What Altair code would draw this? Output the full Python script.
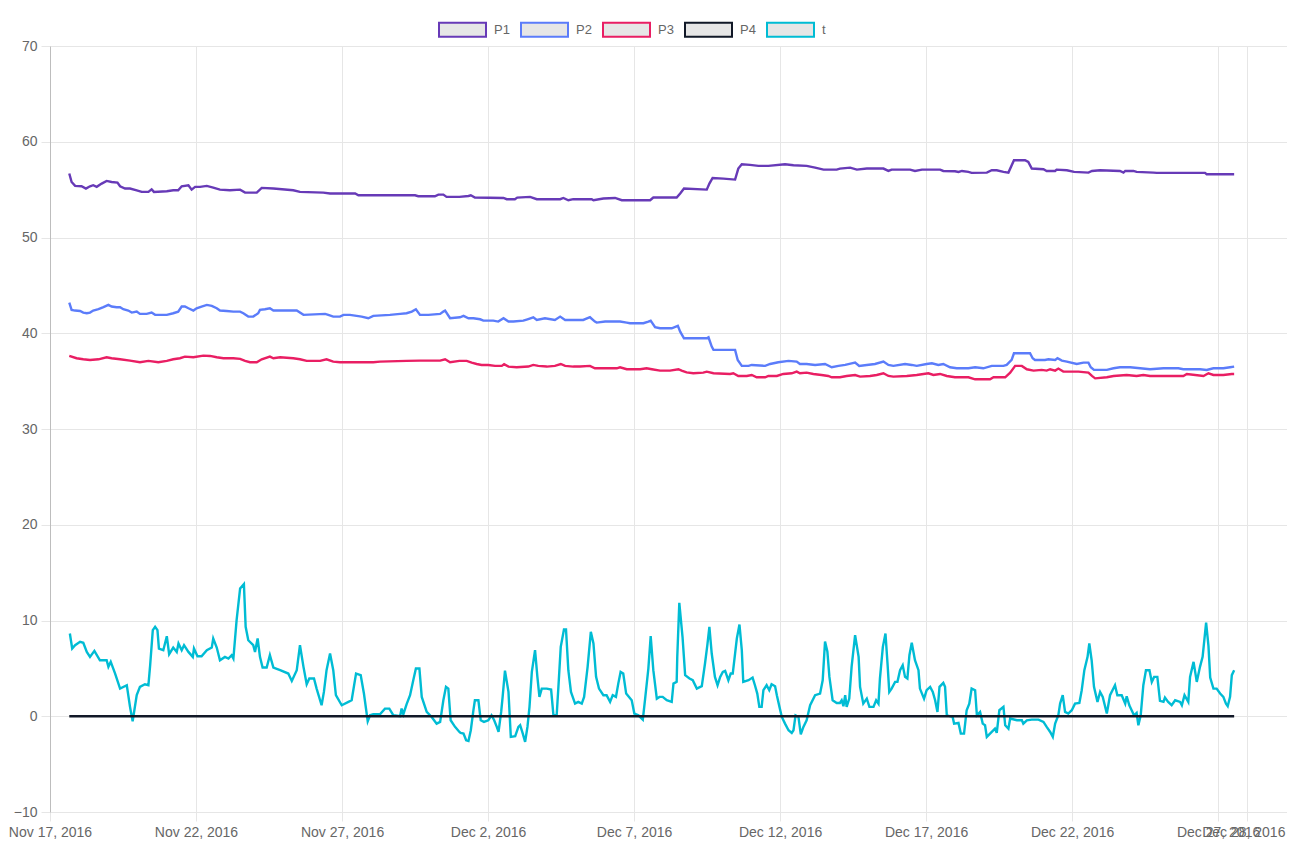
import altair as alt
import pandas as pd

START = "2016-11-17T00:00:00"
SERIES = ["P1", "P2", "P3", "P4", "t"]
COLORS = ["#673ab7", "#5b7cfa", "#e91e63", "#111827", "#00bcd4"]

# (days since Nov 17 2016 00:00, value)
P1 = [(0.66, 56.68), (0.74, 55.80), (0.86, 55.39), (1.08, 55.35), (1.23, 55.11), (1.37, 55.35),
      (1.48, 55.46), (1.60, 55.29), (1.77, 55.63), (1.94, 55.91), (2.11, 55.80), (2.31, 55.74),
      (2.40, 55.35), (2.57, 55.11), (2.74, 55.11), (2.97, 54.93), (3.14, 54.76), (3.37, 54.76),
      (3.48, 55.03), (3.56, 54.76), (4.00, 54.83), (4.22, 54.93), (4.39, 54.93), (4.51, 55.35),
      (4.74, 55.46), (4.85, 55.00), (4.97, 55.29), (5.14, 55.29), (5.37, 55.39), (5.59, 55.21),
      (5.82, 55.00), (6.16, 54.93), (6.51, 55.00), (6.68, 54.69), (7.08, 54.69), (7.25, 55.18),
      (7.65, 55.11), (8.33, 54.93), (8.56, 54.76), (9.36, 54.69), (9.59, 54.59), (10.45, 54.59),
      (10.56, 54.41), (12.50, 54.41), (12.61, 54.31), (13.18, 54.31), (13.30, 54.48), (13.47, 54.48),
      (13.58, 54.24), (14.02, 54.24), (14.33, 54.34), (14.41, 54.41), (14.55, 54.17), (15.53, 54.13),
      (15.64, 54.00), (15.92, 54.00), (16.00, 54.17), (16.44, 54.24), (16.67, 54.00), (17.47, 54.00),
      (17.58, 54.13), (17.75, 53.89), (17.92, 54.00), (18.55, 54.00), (18.61, 53.89), (18.95, 54.07),
      (19.35, 54.13), (19.58, 53.89), (20.55, 53.89), (20.66, 54.17), (21.46, 54.17), (21.58, 54.59),
      (21.71, 55.11), (22.49, 55.00), (22.58, 55.63), (22.69, 56.22), (23.06, 56.15), (23.46, 56.05),
      (23.57, 57.20), (23.69, 57.65), (23.97, 57.58), (24.26, 57.48), (24.60, 57.48), (25.17, 57.65),
      (25.46, 57.55), (25.91, 57.48), (26.20, 57.30), (26.49, 57.09), (26.94, 57.09), (27.05, 57.20),
      (27.40, 57.30), (27.63, 57.09), (27.97, 57.20), (28.54, 57.20), (28.71, 56.95), (28.82, 57.09),
      (29.45, 57.09), (29.62, 56.95), (29.86, 57.09), (30.48, 57.09), (30.59, 56.95), (30.99, 56.92),
      (31.11, 56.85), (31.23, 56.95), (31.45, 56.85), (31.56, 56.75), (32.08, 56.78), (32.25, 57.02),
      (32.42, 57.02), (32.65, 56.85), (32.82, 56.78), (33.01, 58.07), (33.39, 58.07), (33.50, 57.89),
      (33.62, 57.20), (34.02, 57.13), (34.13, 56.95), (34.42, 56.95), (34.47, 57.09), (34.82, 57.02),
      (35.07, 56.85), (35.56, 56.78), (35.68, 56.95), (35.96, 57.02), (36.64, 56.95), (36.76, 56.78),
      (36.82, 56.95), (37.10, 56.95), (37.21, 56.85), (37.79, 56.78), (37.90, 56.75), (39.55, 56.75),
      (39.61, 56.61), (40.55, 56.61)]

P2 = [(0.66, 43.20), (0.74, 42.44), (0.86, 42.37), (1.03, 42.33), (1.14, 42.16), (1.26, 42.09),
      (1.37, 42.16), (1.48, 42.37), (1.66, 42.51), (1.83, 42.72), (2.00, 42.96), (2.11, 42.79),
      (2.28, 42.72), (2.40, 42.72), (2.51, 42.51), (2.68, 42.37), (2.80, 42.16), (2.97, 42.26),
      (3.08, 42.02), (3.31, 42.02), (3.48, 42.16), (3.60, 41.92), (4.00, 41.92), (4.22, 42.09),
      (4.39, 42.26), (4.51, 42.79), (4.62, 42.79), (4.74, 42.61), (4.91, 42.37), (5.02, 42.61),
      (5.19, 42.79), (5.37, 42.96), (5.54, 42.86), (5.71, 42.61), (5.82, 42.37), (6.05, 42.33),
      (6.28, 42.26), (6.51, 42.26), (6.62, 42.09), (6.79, 41.74), (6.96, 41.74), (7.13, 42.09),
      (7.19, 42.44), (7.36, 42.51), (7.53, 42.61), (7.65, 42.37), (8.45, 42.37), (8.68, 41.92),
      (9.42, 42.02), (9.53, 41.92), (9.70, 41.74), (9.93, 41.74), (10.05, 41.92), (10.27, 41.92),
      (10.50, 41.81), (10.67, 41.74), (10.90, 41.57), (11.07, 41.81), (11.64, 41.92), (11.99, 42.02),
      (12.21, 42.09), (12.39, 42.26), (12.53, 42.51), (12.67, 41.92), (12.96, 41.92), (13.36, 42.02),
      (13.47, 42.26), (13.53, 42.37), (13.70, 41.57), (14.04, 41.67), (14.16, 41.81), (14.33, 41.57),
      (14.50, 41.57), (14.73, 41.46), (14.84, 41.32), (15.18, 41.32), (15.35, 41.22), (15.53, 41.57),
      (15.70, 41.22), (15.87, 41.22), (16.21, 41.32), (16.35, 41.46), (16.55, 41.67), (16.67, 41.39),
      (16.95, 41.57), (17.29, 41.39), (17.47, 41.74), (17.64, 41.39), (18.26, 41.39), (18.49, 41.67),
      (18.66, 41.22), (18.72, 41.11), (19.01, 41.22), (19.52, 41.22), (19.75, 41.11), (19.86, 41.05),
      (20.32, 41.05), (20.49, 41.22), (20.57, 41.32), (20.72, 40.63), (20.89, 40.52), (21.29, 40.52),
      (21.50, 40.77), (21.58, 40.17), (21.71, 39.48), (22.49, 39.48), (22.55, 39.58), (22.66, 38.61),
      (22.72, 38.26), (23.46, 38.26), (23.55, 37.21), (23.69, 36.59), (23.92, 36.59), (24.03, 36.69),
      (24.49, 36.59), (24.66, 36.79), (24.94, 36.97), (25.29, 37.11), (25.57, 37.04), (25.68, 36.79),
      (25.91, 36.79), (26.20, 36.69), (26.54, 36.79), (26.77, 36.45), (27.00, 36.59), (27.23, 36.69),
      (27.45, 36.86), (27.57, 36.93), (27.71, 36.59), (27.97, 36.69), (28.25, 36.79), (28.54, 37.04),
      (28.71, 36.69), (28.88, 36.59), (29.28, 36.79), (29.51, 36.69), (29.68, 36.59), (30.02, 36.79),
      (30.20, 36.86), (30.42, 36.69), (30.59, 36.79), (30.82, 36.45), (31.05, 36.34), (31.45, 36.34),
      (31.68, 36.45), (31.96, 36.34), (32.25, 36.59), (32.65, 36.59), (32.76, 36.69), (32.93, 37.21),
      (33.01, 37.91), (33.56, 37.91), (33.65, 37.39), (33.73, 37.21), (34.07, 37.21), (34.19, 37.28),
      (34.42, 37.21), (34.50, 37.39), (34.65, 37.14), (34.82, 37.04), (35.16, 36.79), (35.39, 36.93),
      (35.56, 36.93), (35.64, 36.45), (35.75, 36.17), (36.19, 36.17), (36.42, 36.34), (36.64, 36.45),
      (36.99, 36.45), (37.33, 36.34), (37.67, 36.24), (38.13, 36.34), (38.64, 36.34), (38.81, 36.24),
      (39.38, 36.24), (39.61, 36.17), (39.84, 36.34), (40.18, 36.34), (40.41, 36.45), (40.55, 36.52)]

P3 = [(0.66, 37.63), (0.91, 37.39), (1.14, 37.28), (1.37, 37.21), (1.66, 37.28), (1.94, 37.49),
      (2.11, 37.39), (2.40, 37.28), (2.74, 37.14), (3.08, 36.97), (3.37, 37.11), (3.71, 36.97),
      (4.00, 37.11), (4.22, 37.28), (4.45, 37.39), (4.62, 37.56), (4.91, 37.49), (5.25, 37.66),
      (5.48, 37.63), (5.71, 37.49), (5.94, 37.39), (6.28, 37.39), (6.51, 37.32), (6.68, 37.11),
      (6.85, 36.97), (7.08, 36.97), (7.25, 37.28), (7.53, 37.56), (7.65, 37.39), (7.88, 37.49),
      (8.33, 37.39), (8.56, 37.28), (8.79, 37.11), (9.25, 37.11), (9.47, 37.28), (9.70, 37.04),
      (9.93, 36.97), (11.07, 36.97), (11.30, 37.04), (12.21, 37.11), (12.67, 37.14), (13.36, 37.14),
      (13.53, 37.28), (13.70, 36.97), (14.02, 37.11), (14.27, 37.11), (14.44, 36.93), (14.61, 36.79),
      (14.78, 36.69), (15.01, 36.69), (15.24, 36.59), (15.47, 36.59), (15.55, 36.76), (15.70, 36.52),
      (15.98, 36.45), (16.38, 36.52), (16.55, 36.69), (16.72, 36.59), (17.01, 36.52), (17.29, 36.59),
      (17.49, 36.79), (17.64, 36.59), (17.92, 36.52), (18.15, 36.52), (18.49, 36.59), (18.66, 36.34),
      (19.41, 36.34), (19.52, 36.45), (19.75, 36.24), (20.21, 36.24), (20.43, 36.34), (20.61, 36.24),
      (20.89, 36.10), (21.23, 36.10), (21.52, 36.24), (21.63, 36.10), (21.80, 35.92), (22.03, 35.82),
      (22.37, 35.89), (22.49, 35.99), (22.72, 35.82), (23.29, 35.75), (23.40, 35.82), (23.57, 35.54),
      (23.86, 35.54), (24.03, 35.64), (24.20, 35.40), (24.49, 35.40), (24.60, 35.54), (24.89, 35.54),
      (25.11, 35.75), (25.40, 35.82), (25.57, 35.99), (25.68, 35.82), (25.91, 35.89), (26.14, 35.75),
      (26.42, 35.64), (26.65, 35.54), (26.77, 35.40), (27.05, 35.40), (27.28, 35.54), (27.57, 35.64),
      (27.74, 35.47), (28.08, 35.54), (28.31, 35.64), (28.54, 35.82), (28.71, 35.54), (28.88, 35.47),
      (29.34, 35.54), (29.68, 35.64), (30.08, 35.82), (30.25, 35.64), (30.48, 35.75), (30.71, 35.54),
      (30.99, 35.40), (31.45, 35.40), (31.68, 35.19), (32.19, 35.19), (32.31, 35.40), (32.71, 35.40),
      (32.88, 35.89), (33.05, 36.59), (33.28, 36.59), (33.45, 36.24), (33.68, 36.10), (33.96, 36.17),
      (34.13, 36.10), (34.25, 36.24), (34.42, 36.10), (34.53, 36.31), (34.70, 35.99), (35.22, 35.99),
      (35.56, 35.89), (35.68, 35.54), (35.79, 35.29), (36.19, 35.40), (36.42, 35.54), (36.87, 35.64),
      (37.21, 35.54), (37.44, 35.64), (37.67, 35.54), (38.36, 35.54), (38.81, 35.54), (38.93, 35.75),
      (39.50, 35.54), (39.67, 35.82), (39.84, 35.64), (40.18, 35.64), (40.47, 35.75), (40.55, 35.75)]

P4 = [(0.66, 0.0), (40.55, 0.0)]

T = [(0.68, 8.64), (0.76, 7.07), (0.86, 7.42), (1.03, 7.77), (1.14, 7.67), (1.26, 6.72), (1.37, 6.20),
     (1.52, 6.83), (1.71, 5.85), (1.94, 5.85), (2.00, 5.16), (2.08, 5.68), (2.23, 4.46), (2.40, 2.89),
     (2.63, 3.24), (2.74, 0.98), (2.83, -0.52), (2.97, 2.20), (3.08, 3.07), (3.25, 3.34), (3.37, 3.24),
     (3.43, 5.33), (3.52, 8.99), (3.60, 9.34), (3.68, 8.99), (3.73, 7.07), (3.88, 6.90), (4.00, 8.36),
     (4.08, 6.48), (4.22, 7.18), (4.34, 6.72), (4.40, 7.60), (4.51, 6.90), (4.59, 7.42), (4.74, 6.72),
     (4.89, 6.20), (4.93, 7.07), (5.05, 6.27), (5.19, 6.27), (5.37, 6.90), (5.54, 7.18), (5.59, 8.12),
     (5.71, 7.18), (5.82, 5.85), (5.99, 6.20), (6.11, 6.03), (6.22, 6.38), (6.28, 6.03), (6.39, 10.03),
     (6.51, 13.34), (6.64, 13.80), (6.70, 9.34), (6.79, 7.94), (6.96, 7.42), (7.02, 6.72), (7.11, 8.12),
     (7.19, 6.20), (7.28, 5.09), (7.42, 5.09), (7.53, 6.38), (7.65, 5.09), (7.88, 4.81), (8.16, 4.46),
     (8.28, 3.69), (8.45, 4.81), (8.56, 7.42), (8.68, 5.16), (8.79, 3.34), (8.88, 3.94), (9.04, 3.94),
     (9.13, 2.89), (9.30, 1.15), (9.38, 2.54), (9.47, 4.81), (9.59, 6.55), (9.70, 4.81), (9.79, 2.20),
     (9.99, 1.15), (10.22, 1.50), (10.33, 1.67), (10.48, 4.46), (10.64, 4.29), (10.75, 2.37),
     (10.88, -0.52), (10.96, 0.10), (11.07, 0.21), (11.30, 0.21), (11.47, 0.80), (11.62, 0.80),
     (11.76, 0.10), (11.99, 0.00), (12.04, 0.80), (12.10, 0.21), (12.21, 1.25), (12.33, 2.20),
     (12.44, 3.76), (12.53, 4.98), (12.65, 4.98), (12.73, 2.02), (12.90, 0.45), (13.07, -0.07),
     (13.24, -0.77), (13.36, -0.59), (13.47, 1.67), (13.56, 3.07), (13.64, 2.89), (13.72, -0.42),
     (13.87, -1.11), (14.02, -1.64), (14.06, -1.74), (14.16, -1.81), (14.25, -2.51), (14.33, -2.58),
     (14.41, -1.46), (14.50, 0.63), (14.55, 1.67), (14.67, 1.67), (14.75, -0.42), (14.86, -0.59),
     (15.01, -0.42), (15.12, 0.10), (15.21, -0.42), (15.30, -1.11), (15.36, -1.64), (15.45, 0.45),
     (15.50, 2.02), (15.58, 4.77), (15.70, 2.54), (15.78, -2.16), (15.93, -2.09), (16.04, -1.11),
     (16.10, -0.94), (16.19, -1.81), (16.27, -2.67), (16.35, -1.11), (16.42, 0.98), (16.50, 4.63),
     (16.61, 6.90), (16.69, 4.11), (16.76, 2.02), (16.84, 2.89), (17.01, 2.89), (17.16, 2.79),
     (17.24, 0.10), (17.35, 0.10), (17.41, 3.07), (17.49, 7.25), (17.60, 9.06), (17.67, 9.06),
     (17.75, 4.81), (17.84, 2.54), (17.98, 1.32), (18.09, 1.50), (18.21, 1.32), (18.29, 2.02),
     (18.41, 5.16), (18.52, 8.82), (18.61, 7.60), (18.70, 4.11), (18.80, 2.89), (18.95, 2.20),
     (19.06, 2.20), (19.18, 1.50), (19.27, 2.20), (19.38, 2.02), (19.46, 3.41), (19.54, 4.63),
     (19.63, 4.46), (19.73, 2.37), (19.92, 1.67), (20.01, 0.28), (20.15, 0.10), (20.30, -0.35),
     (20.38, 1.84), (20.49, 4.98), (20.57, 8.36), (20.66, 4.81), (20.78, 1.84), (20.87, 2.02),
     (20.98, 2.02), (21.12, 1.67), (21.29, 1.50), (21.35, 3.41), (21.46, 3.59), (21.48, 6.20),
     (21.55, 11.85), (21.66, 8.30), (21.75, 4.29), (21.90, 3.94), (22.01, 3.76), (22.15, 2.89),
     (22.32, 3.14), (22.43, 5.51), (22.51, 7.42), (22.58, 9.34), (22.66, 6.55), (22.77, 4.11),
     (22.86, 3.24), (22.95, 4.11), (23.04, 4.63), (23.12, 4.74), (23.23, 3.76), (23.31, 4.46),
     (23.38, 4.46), (23.46, 6.55), (23.52, 8.12), (23.61, 9.58), (23.69, 6.90), (23.74, 3.59),
     (23.92, 3.76), (24.06, 4.04), (24.14, 3.24), (24.22, 2.37), (24.29, 0.98), (24.37, 0.98),
     (24.43, 2.72), (24.54, 3.24), (24.63, 2.72), (24.71, 3.34), (24.83, 3.14), (24.89, 2.20),
     (24.98, 0.98), (25.06, -0.07), (25.17, -0.77), (25.29, -1.46), (25.40, -1.74), (25.46, -1.46),
     (25.53, 0.10), (25.63, -0.07), (25.71, -1.88), (25.80, -1.11), (25.91, -0.42), (26.03, 1.15),
     (26.20, 2.20), (26.37, 2.37), (26.46, 3.76), (26.54, 7.81), (26.62, 6.76), (26.69, 4.11),
     (26.80, 1.67), (26.94, 1.39), (27.05, 1.39), (27.11, 1.67), (27.17, 1.05), (27.23, 2.20),
     (27.28, 0.98), (27.37, 1.84), (27.45, 5.16), (27.57, 8.47), (27.69, 6.20), (27.74, 3.07),
     (27.85, 1.32), (27.97, 1.84), (28.06, 0.98), (28.20, 0.98), (28.29, 1.67), (28.37, 1.32),
     (28.42, 3.94), (28.52, 7.25), (28.61, 8.64), (28.68, 5.51), (28.74, 2.54), (28.82, 2.89),
     (28.94, 3.59), (29.02, 3.59), (29.11, 4.81), (29.20, 5.33), (29.28, 4.11), (29.36, 3.94),
     (29.43, 6.38), (29.51, 7.67), (29.62, 5.85), (29.74, 4.81), (29.79, 2.89), (29.93, 1.84),
     (30.02, 2.72), (30.14, 3.07), (30.23, 2.54), (30.31, 1.67), (30.39, 0.45), (30.46, 3.07),
     (30.59, 3.48), (30.65, 3.07), (30.71, 0.10), (30.91, -0.07), (30.96, -0.77), (31.11, -0.70),
     (31.19, -1.81), (31.30, -1.81), (31.39, 0.63), (31.48, 1.32), (31.56, 2.89), (31.68, 2.72),
     (31.74, 0.10), (31.85, 0.45), (31.94, -0.77), (32.02, -0.94), (32.08, -2.16), (32.25, -1.64),
     (32.36, -1.29), (32.42, -1.74), (32.51, 0.63), (32.65, 0.98), (32.71, -0.94), (32.82, -1.29),
     (32.88, -0.24), (33.11, -0.42), (33.28, -0.42), (33.33, -0.77), (33.45, -0.42), (33.62, -0.35),
     (33.85, -0.35), (34.02, -0.59), (34.13, -1.11), (34.25, -1.64), (34.34, -2.16), (34.42, -0.77),
     (34.53, 0.10), (34.59, 1.32), (34.68, 2.20), (34.76, 0.45), (34.87, 0.28), (34.99, 0.63),
     (35.10, 1.32), (35.25, 1.39), (35.33, 2.72), (35.42, 4.81), (35.53, 6.20), (35.59, 7.60),
     (35.67, 5.85), (35.75, 3.07), (35.87, 1.50), (35.96, 2.54), (36.05, 2.02), (36.19, 0.28),
     (36.30, 2.20), (36.47, 3.24), (36.55, 2.20), (36.70, 2.20), (36.82, 1.32), (36.87, 2.09),
     (36.96, 1.15), (37.04, 0.63), (37.12, 0.10), (37.21, 0.35), (37.27, -0.94), (37.35, 0.10),
     (37.44, 3.24), (37.53, 4.81), (37.65, 4.81), (37.73, 3.59), (37.81, 4.11), (37.92, 4.11),
     (38.01, 1.60), (38.13, 1.50), (38.18, 1.95), (38.29, 1.50), (38.41, 1.15), (38.53, 1.67),
     (38.70, 1.50), (38.76, 1.15), (38.85, 2.20), (38.98, 1.50), (39.04, 4.11), (39.16, 5.68),
     (39.27, 3.59), (39.38, 5.16), (39.47, 6.20), (39.59, 9.79), (39.67, 7.35), (39.73, 4.04),
     (39.84, 2.89), (39.95, 2.89), (40.07, 2.37), (40.18, 2.02), (40.27, 1.32), (40.33, 1.05),
     (40.41, 2.02), (40.47, 4.29), (40.55, 4.81)]

TICK_DATES = [(2016, 11, 17), (2016, 11, 22), (2016, 11, 27), (2016, 12, 2), (2016, 12, 7),
              (2016, 12, 12), (2016, 12, 17), (2016, 12, 22), (2016, 12, 27), (2016, 12, 28)]
Y_TICKS = [-10, 0, 10, 20, 30, 40, 50, 60, 70]

start = pd.Timestamp(START)
rows = []
for name, pts in zip(SERIES, [P1, P2, P3, P4, T]):
    for d, v in pts:
        ts = start + pd.to_timedelta(d, unit="D")
        rows.append({"series": name, "time": ts.strftime("%Y-%m-%dT%H:%M:%S"), "value": v})
df = pd.DataFrame(rows)

FONT = "Liberation Sans"
GRID = "#e6e6e6"

x_enc = alt.X(
    "time:T",
    scale=alt.Scale(domain=[alt.DateTime(year=2016, month=11, date=17),
                            alt.DateTime(year=2016, month=12, date=29, hours=8, minutes=38)]),
    axis=alt.Axis(values=[alt.DateTime(year=y, month=m, date=d) for y, m, d in TICK_DATES],
                  format="%b %-d, %Y", title=None, labelOverlap=False, labelFlush=False,
                  labelOffset={"condition": {"test": "datum.value > datetime(2016, 11, 27, 12)",
                                             "value": -4}, "value": 0},
                  grid=True, gridColor=GRID, tickColor=GRID, domainColor=GRID, tickSize=9,
                  labelPadding=4, labelFont=FONT, labelFontSize=14, labelColor="#666666"),
)
y_enc = alt.Y(
    "value:Q",
    scale=alt.Scale(domain=[-10, 70], nice=False, zero=False),
    axis=alt.Axis(values=Y_TICKS, title=None, grid=True, gridColor=GRID, tickColor=GRID,
                  domainColor="#bdbdbd", tickSize=9, labelPadding=4, labelFont=FONT,
                  labelFontSize=14, labelColor="#666666"),
)
color_enc = alt.Color(
    "series:N",
    scale=alt.Scale(domain=SERIES, range=COLORS),
    legend=alt.Legend(orient="none", legendX=388, legendY=-41, direction="horizontal", title=None,
                      symbolType="M-1,-0.3L1,-0.3L1,0.3L-1,0.3Z", symbolSize=2209,
                      symbolStrokeWidth=2, symbolFillColor="#e6e6e6", labelFont=FONT,
                      labelFontSize=13, labelColor="#666666", labelOffset=7, columnPadding=7,
                      padding=0),
)

base = alt.Chart(df).mark_line(strokeWidth=2.4, interpolate="linear").encode(
    x=x_enc, y=y_enc, color=color_enc, order="time:T"
)
layers = [base.transform_filter(alt.datum.series == s) for s in reversed(SERIES)]

chart = alt.layer(*layers).properties(
    width=1237, height=766,
    autosize=alt.AutoSizeParams(type="none"),
    padding={"left": 42, "top": 38, "right": 0, "bottom": 40},
    background="white",
).configure_view(stroke=None)

chart.save("out.html", embed_options={"renderer": "svg", "actions": False})
